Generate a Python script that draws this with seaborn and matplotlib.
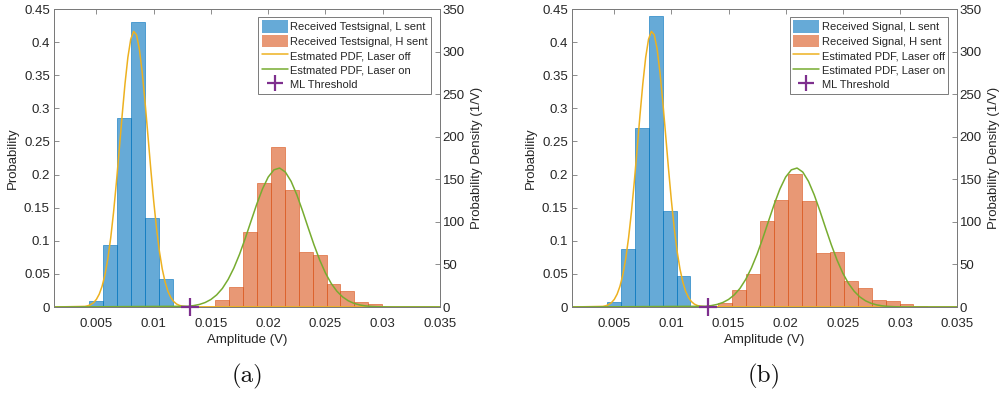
import numpy as np
import pandas as pd
import matplotlib
matplotlib.use("Agg")
import matplotlib.pyplot as plt
import seaborn as sns
from matplotlib.patches import Patch
from matplotlib.lines import Line2D

# ---------------- data ----------------
bin_start = 0.00436
bin_width = 0.00122

# panel (a): probability per bin
blue_first_a = 0
blue_a = [0.009, 0.094, 0.286, 0.431, 0.135, 0.042, 0.002]
orange_first_a = 9
orange_a = [0.011, 0.030, 0.114, 0.188, 0.241, 0.177, 0.083, 0.079, 0.035, 0.024, 0.008, 0.005]

# panel (b)
blue_first_b = 0
blue_b = [0.0075, 0.087, 0.271, 0.440, 0.145, 0.047, 0.002]
orange_first_b = 7
orange_b = [0.002, 0.006, 0.025, 0.050, 0.130, 0.162, 0.201, 0.160, 0.081, 0.083,
            0.040, 0.028, 0.011, 0.0086, 0.004, 0.002]

# estimated PDF, laser off (1/V)
pdf_off_x = [0.0013, 0.0040, 0.00425, 0.0045, 0.00475, 0.0050, 0.00525, 0.0055, 0.00575,
             0.0060, 0.00625, 0.0065, 0.00675, 0.0070, 0.00725, 0.0075, 0.00775,
             0.0080, 0.00825, 0.0085, 0.00875, 0.0090, 0.00925, 0.0095, 0.00975,
             0.0100, 0.01025, 0.0105, 0.01075, 0.0110, 0.01125, 0.0115, 0.01175,
             0.0120, 0.01225, 0.0125, 0.01275, 0.0130, 0.035]
pdf_off_y = [0.0, 0.73, 1.45, 2.76, 5.07, 8.92, 15.1, 24.4, 37.9, 56.6, 81.0, 111.3, 146.7,
             185.5, 225.2, 262.3, 293.2, 314.5, 323.7, 319.8, 303.1, 275.6, 240.6,
             201.5, 161.9, 124.9, 92.4, 65.6, 44.7, 29.3, 18.3, 11.1, 6.4, 3.5, 1.9,
             0.96, 0.47, 0.22, 0.0]

# estimated PDF, laser on (1/V)
pdf_on_x = [0.0013, 0.0130, 0.0135, 0.0140, 0.0145, 0.0150, 0.0155, 0.0160, 0.0165, 0.0170,
            0.0175, 0.0180, 0.0185, 0.0190, 0.0195, 0.0200, 0.0205, 0.0210, 0.0215,
            0.0220, 0.0225, 0.0230, 0.0235, 0.0240, 0.0245, 0.0250, 0.0255, 0.0260,
            0.0265, 0.0270, 0.0275, 0.0280, 0.0285, 0.0290, 0.0295, 0.0300, 0.0305,
            0.0310, 0.035]
pdf_on_y = [0.0, 0.88, 1.66, 3.02, 5.28, 8.84, 14.2, 21.8, 32.3, 45.7, 62.0, 80.7, 100.8,
            120.7, 138.6, 152.6, 161.1, 163.2, 158.5, 147.6, 131.8, 112.9, 92.7, 73.0,
            55.1, 39.9, 27.7, 18.5, 11.8, 7.23, 4.25, 2.39, 1.29, 0.67, 0.33, 0.16,
            0.07, 0.03, 0.0]

threshold_a = 0.01319
threshold_b = 0.0132

xticks = [0.005, 0.01, 0.015, 0.02, 0.025, 0.03, 0.035]
xticklabels = ["0.005", "0.01", "0.015", "0.02", "0.025", "0.03", "0.035"]
ylticks = [0, 0.05, 0.1, 0.15, 0.2, 0.25, 0.3, 0.35, 0.4, 0.45]
yllabels = ["0", "0.05", "0.1", "0.15", "0.2", "0.25", "0.3", "0.35", "0.4", "0.45"]
yrticks = [0, 50, 100, 150, 200, 250, 300, 350]

labels_a = ["Received Testsignal, L sent", "Received Testsignal, H sent",
            "Estmated PDF, Laser off", "Estmated PDF, Laser on", "ML Threshold"]
labels_b = ["Received Signal, L sent", "Received Signal, H sent",
            "Estimated PDF, Laser off", "Estimated PDF, Laser on", "ML Threshold"]

# ---------------- style ----------------
sns.set_theme(style="white")
plt.rcParams["font.family"] = ["Liberation Sans", "DejaVu Sans"]
BLUE = "#0072BD"
ORANGE = "#D95319"
YELLOW = "#EDB120"
GREEN = "#77AC30"
PURPLE = "#7E2F8E"
AXC = "#7a7a7a"
TXT = "#262626"

fig = plt.figure(figsize=(10.01, 3.96), dpi=100)


def hist(ax, first, heights, color):
    n = len(heights)
    idx = np.arange(first, first + n)
    lo = bin_start + bin_width * first
    hi = bin_start + bin_width * (first + n)
    df = pd.DataFrame({"amp": bin_start + bin_width * (idx + 0.5),
                       "prob": [float(h) for h in heights]})
    sns.histplot(data=df, x="amp", weights="prob", binwidth=bin_width,
                 binrange=(lo, hi - bin_width * 0.01), ax=ax, color=color,
                 alpha=0.6, edgecolor=color, linewidth=0.4, stat="count")


def panel(rect, blue_first, blue, orange_first, orange, thr, labels, caption):
    ax = fig.add_axes(rect)
    hist(ax, blue_first, blue, BLUE)
    hist(ax, orange_first, orange, ORANGE)
    ax.set_xlim(0.0013, 0.035)
    ax.set_ylim(0, 0.45)
    ax.set_xticks(xticks)
    ax.set_xticklabels(xticklabels)
    ax.set_yticks(ylticks)
    ax.set_yticklabels(yllabels)
    ax.tick_params(axis="both", direction="in", length=3.5, width=0.6, color=AXC,
                   labelsize=9.5, labelcolor=TXT, top=True, pad=3)
    ax.tick_params(axis="x", pad=8)
    ax.tick_params(axis="y", left=True, right=False)
    ax.set_xlabel("Amplitude (V)", fontsize=9.5, color=TXT, labelpad=3)
    ax.set_ylabel("Probability", fontsize=9.5, color=TXT, labelpad=4)
    for s in ax.spines.values():
        s.set_color(AXC)
        s.set_linewidth(0.7)

    ax2 = ax.twinx()
    sns.lineplot(x=pdf_off_x, y=pdf_off_y, ax=ax2, color=YELLOW, linewidth=1.1)
    sns.lineplot(x=pdf_on_x, y=pdf_on_y, ax=ax2, color=GREEN, linewidth=1.1)
    sns.scatterplot(x=[thr], y=[0], ax=ax2, marker="+", s=150, color=PURPLE,
                    linewidth=1.6, clip_on=False, zorder=10)
    ax2.set_ylim(0, 350)
    ax2.set_xlim(0.0013, 0.035)
    ax2.set_yticks(yrticks)
    ax2.set_ylabel("Probability Density (1/V)", fontsize=9.5, color=TXT, labelpad=4)
    ax2.tick_params(axis="y", direction="in", length=3.5, width=0.6, color=AXC,
                    labelsize=9.5, labelcolor=TXT, right=True, pad=2)
    for s in ax2.spines.values():
        s.set_color(AXC)
        s.set_linewidth(0.7)

    handles = [Patch(facecolor=BLUE, alpha=0.6, edgecolor="none"),
               Patch(facecolor=ORANGE, alpha=0.6, edgecolor="none"),
               Line2D([], [], color=YELLOW, lw=1.1),
               Line2D([], [], color=GREEN, lw=1.1),
               Line2D([], [], color=PURPLE, marker="+", ls="none", markersize=11,
                      markeredgewidth=1.6)]
    leg = ax2.legend(handles, labels, loc="upper right", bbox_to_anchor=(0.977, 0.973),
                     fontsize=8, frameon=True, fancybox=False, framealpha=1,
                     edgecolor=AXC, borderpad=0.3, labelspacing=0.18,
                     handlelength=2.35, handleheight=1.35, handletextpad=0.2,
                     borderaxespad=0)
    leg.get_frame().set_linewidth(0.7)
    for t in leg.get_texts():
        t.set_color(TXT)

    cx = rect[0] + rect[2] / 2
    fig.text(cx, 0.05, caption, ha="center", va="center", fontsize=18,
             family=["cmr10", "DejaVu Serif"], color="#111111")


panel([54 / 1001, 1 - 307 / 396, 386 / 1001, 298 / 396],
      blue_first_a, blue_a, orange_first_a, orange_a, threshold_a, labels_a, "(a)")
panel([572 / 1001, 1 - 307 / 396, 385 / 1001, 298 / 396],
      blue_first_b, blue_b, orange_first_b, orange_b, threshold_b, labels_b, "(b)")

fig.savefig("out.png", dpi=100)
